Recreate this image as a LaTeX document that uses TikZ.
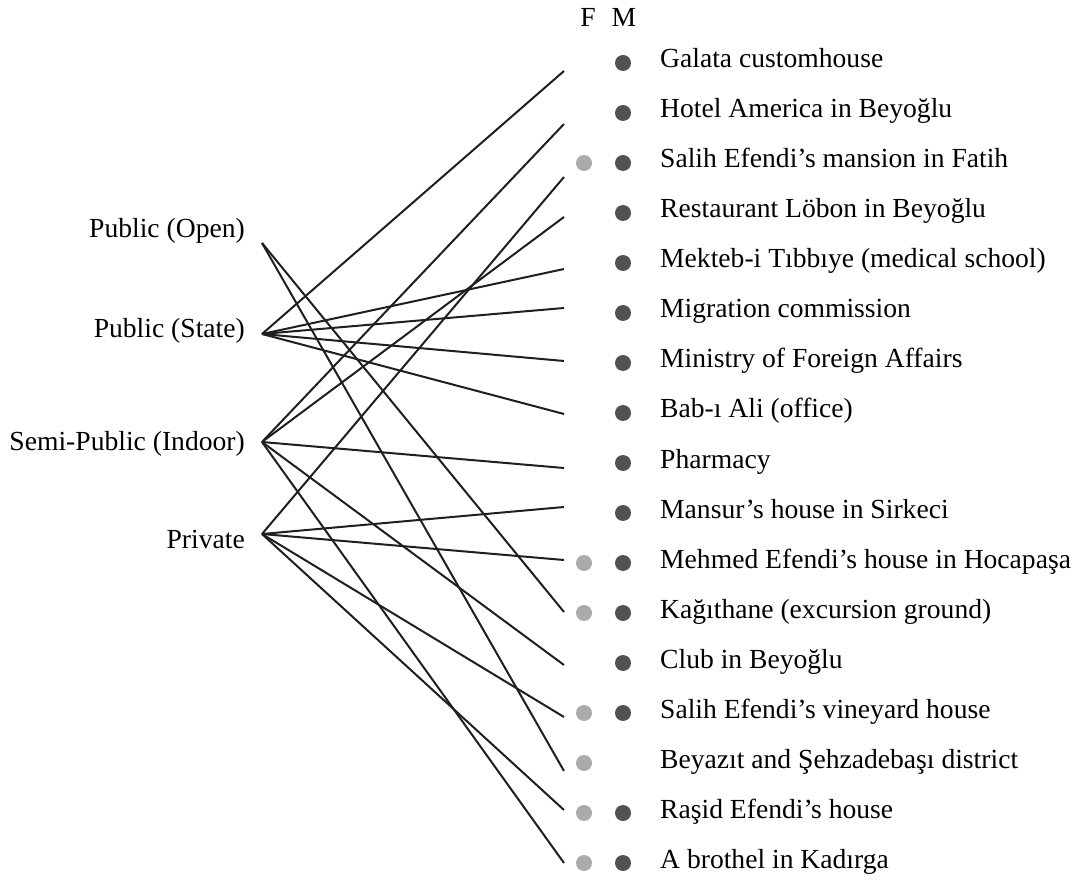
\documentclass[tikz,border=0pt]{standalone}
\usepackage{fontspec}
\setmainfont{Liberation Serif}
\begin{document}
\begin{tikzpicture}[x=1pt,y=-1pt,
  lbl/.style={font=\fontsize{27.6}{33}\selectfont, inner sep=0pt},
  link/.style={line width=2pt, black!88},
  fdot/.style={circle, fill=black!33, inner sep=0pt, minimum size=16pt},
  mdot/.style={circle, fill=black!68, inner sep=0pt, minimum size=16pt}]
\useasboundingbox (0,0) rectangle (1082,882);

% column headers
\node[lbl, anchor=base] (fhead) at (588,27) {F};
\node[lbl, anchor=base] (mhead) at (624,27) {M};

% categories on the left
\node[lbl, anchor=base east] (openL)  at (245,238) {Public (Open)};
\node[lbl, anchor=base east] (stateL) at (245,338) {Public (State)};
\node[lbl, anchor=base east] (semiL)  at (245,450) {Semi-Public (Indoor)};
\node[lbl, anchor=base east] (privL)  at (245,548) {Private};

% fan points of the connectors
\coordinate (open)  at (262,243);
\coordinate (state) at (262,334);
\coordinate (semi)  at (262,442);
\coordinate (priv)  at (262,534);

% places: index / connector end / female / male / name
\foreach \i/\ey/\f/\m/\t in {
  0/71/0/1/{Galata customhouse},
  1/124/0/1/{Hotel America in Beyoğlu},
  2/177/1/1/{Salih Efendi’s mansion in Fatih},
  3/217/0/1/{Restaurant Löbon in Beyoğlu},
  4/269/0/1/{Mekteb-i Tıbbıye (medical school)},
  5/308/0/1/{Migration commission},
  6/361/0/1/{Ministry of Foreign Affairs},
  7/414/0/1/{Bab-ı Ali (office)},
  8/468/0/1/{Pharmacy},
  9/507/0/1/{Mansur’s house in Sirkeci},
  10/560/1/1/{Mehmed Efendi’s house in Hocapaşa},
  11/612/1/1/{Kağıthane (excursion ground)},
  12/665/0/1/{Club in Beyoğlu},
  13/717/1/1/{Salih Efendi’s vineyard house},
  14/771/1/0/{Beyazıt and Şehzadebaşı district},
  15/810/1/1/{Raşid Efendi’s house},
  16/863/1/1/{A brothel in Kadırga}} {
  \pgfmathsetmacro\dy{63+50*\i}
  \coordinate (e\i) at (564,\ey);
  \node[lbl, anchor=base west] (t\i) at (660,\dy+5) {\t};
  \ifnum\f=1 \node[fdot] (f\i) at (584,\dy) {}; \fi
  \ifnum\m=1 \node[mdot] (m\i) at (623,\dy) {}; \fi
}

% connectors
\draw[link] (state) -- (e0);
\draw[link] (semi)  -- (e1);
\draw[link] (priv)  -- (e2);
\draw[link] (semi)  -- (e3);
\draw[link] (state) -- (e4);
\draw[link] (state) -- (e5);
\draw[link] (state) -- (e6);
\draw[link] (state) -- (e7);
\draw[link] (semi)  -- (e8);
\draw[link] (priv)  -- (e9);
\draw[link] (priv)  -- (e10);
\draw[link] (open)  -- (e11);
\draw[link] (semi)  -- (e12);
\draw[link] (priv)  -- (e13);
\draw[link] (open)  -- (e14);
\draw[link] (priv)  -- (e15);
\draw[link] (semi)  -- (e16);
\end{tikzpicture}
\end{document}
